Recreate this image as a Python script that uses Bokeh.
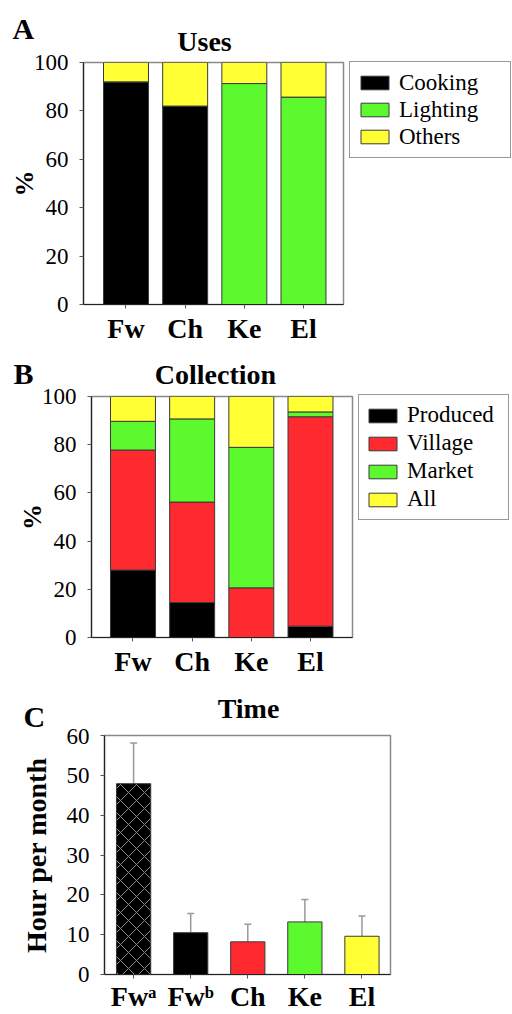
from bokeh.plotting import figure
from bokeh.layouts import column, row
from bokeh.models import (Range1d, FixedTicker, Legend, LegendItem,
                          Whisker, TeeHead, ColumnDataSource)
from bokeh.core.properties import value
from bokeh.embed import file_html
from bokeh.resources import INLINE

FONT = "Liberation Serif"
NAN = float("nan")

# ---------------- data ----------------
uses_cats = ["Fw", "Ch", "Ke", "El"]
uses_series = ["Cooking", "Lighting", "Others"]
uses_cooking = [92, 82, 0, 0]
uses_lighting = [0, 0, 91.3, 85.7]
uses_others = [8, 18, 8.7, 14.3]

coll_cats = ["Fw", "Ch", "Ke", "El"]
coll_series = ["Produced", "Village", "Market", "All"]
coll_produced = [28, 14.5, 0, 4.7]
coll_village = [49.8, 41.7, 20.6, 86.9]
coll_market = [11.9, 34.5, 58.3, 2.0]
coll_all = [10.3, 9.3, 21.1, 6.4]

time_cats = ["Fw", "Fw", "Ch", "Ke", "El"]
time_sup = ["\u1d43", "\u1d47", "", "", ""]   # superscript a, b
time_hours = [47.9, 10.5, 8.2, 13.2, 9.6]
time_err = [10.2, 4.8, 4.4, 5.6, 5.1]

pct_ticks = [0, 20, 40, 60, 80, 100]
hour_ticks = [0, 10, 20, 30, 40, 50, 60]

BLACK = "#000000"
GREEN = "#5cf92e"
RED = "#ff2a2f"
YELLOW = "#ffff33"
EDGE = "#3a3a3a"
uses_colors = [BLACK, GREEN, YELLOW]
coll_colors = [BLACK, RED, GREEN, YELLOW]


def blank(width, height, top=0):
    f = figure(width=width, height=height, x_range=Range1d(0, width), y_range=Range1d(height, 0),
               output_backend="svg", toolbar_location=None, min_border=0, min_border_top=top,
               x_axis_location=None, y_axis_location=None, title=None, frame_align=False)
    f.outline_line_color = None
    f.grid.visible = False
    return f


def header(height, letter, lx, ly, title, tx, ty):
    h = blank(512, height)
    h.text(x=[lx], y=[ly], text=[letter], text_font=value(FONT), text_font_style="bold",
           text_font_size="30px", text_align="left", text_baseline="middle",
           text_color="black")
    h.text(x=[tx], y=[ty], text=[title], text_font=value(FONT), text_font_style="bold",
           text_font_size="28px", text_align="center", text_baseline="middle",
           text_color="black")
    return h


def legend_fig(width, height, top, series, colors, row_h, label_width, pad):
    f = blank(width, height, top)
    items = []
    for s, c in zip(series, colors):
        # proxy renderer (no visible mark) that only supplies the legend swatch style
        r = f.vbar(x=[NAN], top=[NAN], width=1, fill_color=c, line_color=EDGE, line_width=1)
        items.append(LegendItem(label=s, renderers=[r]))
    f.add_layout(Legend(items=items, location="top_left", orientation="vertical", margin=0,
                        label_text_font=FONT, label_text_font_size="23px",
                        label_text_color="black",
                        glyph_width=35, glyph_height=17, label_height=row_h,
                        label_width=label_width, label_standoff=7, spacing=0, padding=pad,
                        border_line_color="#333333", border_line_width=1.5,
                        background_fill_color="white", background_fill_alpha=1))
    return f


def base_fig(width, height, left, right, top, bottom, xr, yr, labels, yticks, xstand):
    p = figure(width=width, height=height, x_range=Range1d(*xr), y_range=Range1d(*yr),
               output_backend="svg", toolbar_location=None, title=None, frame_align=False,
               min_border_left=left, min_border_right=right,
               min_border_top=top, min_border_bottom=bottom)
    p.xgrid.visible = False
    p.ygrid.visible = False
    p.outline_line_color = "#8a8a8a"
    p.outline_line_width = 1.5
    xs = list(range(1, len(labels) + 1))
    p.xaxis.ticker = FixedTicker(ticks=xs)
    p.xaxis.major_label_overrides = {x: c for x, c in zip(xs, labels)}
    p.yaxis.ticker = FixedTicker(ticks=yticks)
    for ax in (p.xaxis[0], p.yaxis[0]):
        ax.minor_tick_line_color = None
        ax.major_tick_in = 0
        ax.major_tick_out = 4
        ax.axis_line_color = "#222222"
        ax.axis_line_width = 1.2
        ax.major_tick_line_color = "#555555"
    p.xaxis.major_label_text_font = FONT
    p.xaxis.major_label_text_font_style = "bold"
    p.xaxis.major_label_text_font_size = "28px"
    p.xaxis.major_label_text_color = "black"
    p.xaxis.major_label_standoff = xstand
    p.yaxis.major_label_text_font = FONT
    p.yaxis.major_label_text_font_size = "23px"
    p.yaxis.major_label_text_color = "black"
    p.yaxis.major_label_standoff = 11
    p.yaxis.axis_label_text_font = FONT
    p.yaxis.axis_label_text_font_style = "bold"
    p.yaxis.axis_label_text_color = "black"
    return p, xs


# ---------------- panel A ----------------
ha = header(52, "A", 12, 27.5, "Uses", 204, 40.5)
pa, xa = base_fig(349, 298, 83, 6, 10, 46, (0.282, 4.676), (0, 100), uses_cats, pct_ticks, 4)
src_a = ColumnDataSource(dict(x=xa, Cooking=uses_cooking, Lighting=uses_lighting,
                              Others=uses_others))
pa.vbar_stack(uses_series, x="x", width=0.76, source=src_a,
              fill_color=uses_colors, line_color=EDGE, line_width=1)
pa.yaxis.axis_label = "%"
pa.yaxis.axis_label_text_font_size = "26px"
pa.yaxis.axis_label_standoff = -8
la = legend_fig(163, 298, 9, uses_series, uses_colors, 27, 104, 7)

# ---------------- panel B ----------------
hb = header(36, "B", 13, 22.5, "Collection", 215, 23.5)
pb, xb = base_fig(358, 296, 91, 6, 10, 45, (0.299, 4.71), (0, 100), coll_cats, pct_ticks, 4)
src_b = ColumnDataSource(dict(x=xb, Produced=coll_produced, Village=coll_village,
                              Market=coll_market, All=coll_all))
pb.vbar_stack(coll_series, x="x", width=0.76, source=src_b,
              fill_color=coll_colors, line_color=EDGE, line_width=1)
pb.yaxis.axis_label = "%"
pb.yaxis.axis_label_text_font_size = "26px"
pb.yaxis.axis_label_standoff = -8
lb = legend_fig(154, 296, 8, coll_series, coll_colors, 28, 95, 6)

# ---------------- panel C ----------------
hc = header(46, "C", 23, 34, "Time", 248, 26)
pc, xc = base_fig(512, 286, 104, 122, 7, 37, (0.49, 5.5), (0, 60),
                  [c + s for c, s in zip(time_cats, time_sup)], hour_ticks, 2)
upper = [h + e for h, e in zip(time_hours, time_err)]
src_c = ColumnDataSource(dict(x=xc, top=time_hours, upper=upper,
                              color=[BLACK, BLACK, RED, GREEN, YELLOW],
                              hatch=["x", " ", " ", " ", " "]))
pc.vbar(x="x", top="top", width=0.6, source=src_c, fill_color="color",
        line_color=EDGE, line_width=1, hatch_pattern="hatch", hatch_color="#8c8c8c",
        hatch_scale=16, hatch_weight=1)
pc.add_layout(Whisker(base="x", lower="top", upper="upper", source=src_c,
                      line_color="#9a9a9a", line_width=1.5, lower_head=None,
                      upper_head=TeeHead(size=7, line_color="#9a9a9a", line_width=1.5)))
pc.yaxis.axis_label = "Hour per month"
pc.yaxis.axis_label_text_font_size = "28px"
pc.yaxis.axis_label_standoff = 12

layout = column(ha, row(pa, la, spacing=0), hb, row(pb, lb, spacing=0), hc, pc, spacing=0)
open("out.html", "w").write(file_html(layout, INLINE))
